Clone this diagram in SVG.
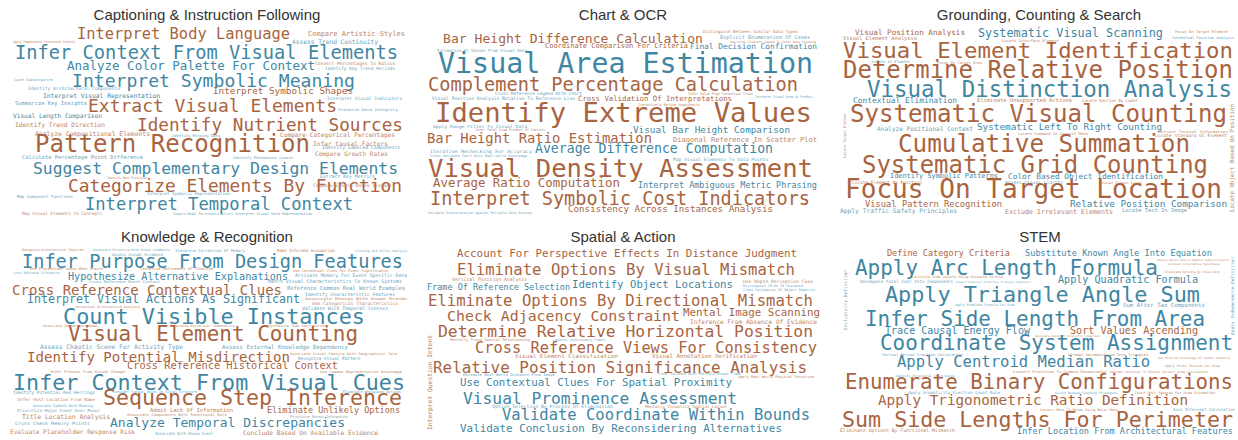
<svg xmlns="http://www.w3.org/2000/svg" width="1238" height="440" viewBox="0 0 1238 440">
<style>
.ttl{font-family:"Liberation Sans",Arial,sans-serif;font-size:15px;fill:#333;text-anchor:middle}
.t{fill:#3f86a3}.b{fill:#a9643f}.tl{fill:#6aa3ba}.bl{fill:#bd8565}
</style>
<rect width="1238" height="440" fill="#fff"/>
<g id="titles">
<text class="ttl" x="207" y="19.5">Captioning &amp; Instruction Following</text>
<text class="ttl" x="623" y="19.5">Chart &amp; OCR</text>
<text class="ttl" x="1039" y="19.5">Grounding, Counting &amp; Search</text>
<text class="ttl" x="207" y="241.5">Knowledge &amp; Recognition</text>
<text class="ttl" x="623" y="241.5">Spatial &amp; Action</text>
<text class="ttl" x="1040" y="241.5">STEM</text>
</g>
<g id="captioning" font-family="DejaVu Sans Mono, monospace">
<text class="b" x="77" y="39" font-size="15.4" textLength="213" lengthAdjust="spacingAndGlyphs">Interpret Body Language</text>
<text class="bl" x="308" y="36" font-size="7" textLength="97" lengthAdjust="spacingAndGlyphs">Compare Artistic Styles</text>
<text class="tl" x="292" y="44" font-size="6.2" textLength="86" lengthAdjust="spacingAndGlyphs">Assess Trend Continuity</text>
<text class="bl" x="13" y="43" font-size="3.6" textLength="62" lengthAdjust="spacingAndGlyphs">Apply Temperature Conversion Formula</text>
<text class="t" x="15" y="59" font-size="18.7" textLength="383" lengthAdjust="spacingAndGlyphs">Infer Context From Visual Elements</text>
<text class="t" x="67" y="70" font-size="12.5" textLength="248" lengthAdjust="spacingAndGlyphs">Analyze Color Palette For Context</text>
<text class="bl" x="315" y="65" font-size="4.6" textLength="80" lengthAdjust="spacingAndGlyphs">Convert Percentages To Ratios</text>
<text class="tl" x="325" y="70" font-size="4.5" textLength="70" lengthAdjust="spacingAndGlyphs">Identify Key Trend Periods</text>
<text class="t" x="72" y="87" font-size="18.1" textLength="283" lengthAdjust="spacingAndGlyphs">Interpret Symbolic Meaning</text>
<text class="tl" x="14" y="81" font-size="3.8" textLength="39" lengthAdjust="spacingAndGlyphs">Count Subcategories</text>
<text class="tl" x="28" y="90" font-size="4.6" textLength="92" lengthAdjust="spacingAndGlyphs">Identify Architectural Components</text>
<text class="b" x="213" y="94" font-size="9.3" textLength="140" lengthAdjust="spacingAndGlyphs">Interpret Symbolic Shapes</text>
<text class="t" x="43" y="98" font-size="6.3" textLength="117" lengthAdjust="spacingAndGlyphs">Interpret Visual Representation</text>
<text class="tl" x="15" y="105" font-size="5.4" textLength="72" lengthAdjust="spacingAndGlyphs">Summarize Key Insights</text>
<text class="tl" x="327" y="100" font-size="4.6" textLength="75" lengthAdjust="spacingAndGlyphs">Interpret Visual Indicators</text>
<text class="b" x="88" y="112" font-size="18" textLength="249" lengthAdjust="spacingAndGlyphs">Extract Visual Elements</text>
<text class="tl" x="338" y="111" font-size="3.6" textLength="60" lengthAdjust="spacingAndGlyphs">Preserve Data Integrity</text>
<text class="t" x="13" y="118" font-size="6.2" textLength="89" lengthAdjust="spacingAndGlyphs">Visual Length Comparison</text>
<text class="b" x="137" y="131" font-size="17.7" textLength="266" lengthAdjust="spacingAndGlyphs">Identify Nutrient Sources</text>
<text class="bl" x="15" y="127" font-size="6.2" textLength="90" lengthAdjust="spacingAndGlyphs">Identify Trend Direction</text>
<text class="bl" x="35" y="136" font-size="6.4" textLength="115" lengthAdjust="spacingAndGlyphs">Analyze Compositional Elements</text>
<text class="tl" x="172" y="137" font-size="3.8" textLength="48" lengthAdjust="spacingAndGlyphs">Identify Missing Data</text>
<text class="bl" x="280" y="137" font-size="6.2" textLength="115" lengthAdjust="spacingAndGlyphs">Compare Categorical Percentages</text>
<text class="b" x="35" y="152" font-size="24" textLength="275" lengthAdjust="spacingAndGlyphs">Pattern Recognition</text>
<text class="bl" x="313" y="146" font-size="6.2" textLength="75" lengthAdjust="spacingAndGlyphs">Infer Causal Factors</text>
<text class="tl" x="322" y="149" font-size="4.8" textLength="78" lengthAdjust="spacingAndGlyphs">Identify Labeled Components</text>
<text class="bl" x="315" y="156" font-size="6.1" textLength="73" lengthAdjust="spacingAndGlyphs">Compare Growth Rates</text>
<text class="tl" x="22" y="159" font-size="5.4" textLength="121" lengthAdjust="spacingAndGlyphs">Calculate Percentage Point Difference</text>
<text class="tl" x="233" y="159" font-size="3.8" textLength="60" lengthAdjust="spacingAndGlyphs">Identify Phenomenon Causes</text>
<text class="t" x="33" y="174" font-size="16.4" textLength="365" lengthAdjust="spacingAndGlyphs">Suggest Complementary Design Elements</text>
<text class="tl" x="320" y="178" font-size="4.8" textLength="55" lengthAdjust="spacingAndGlyphs">Extract Key Metrics</text>
<text class="bl" x="107" y="179" font-size="3.4" textLength="40" lengthAdjust="spacingAndGlyphs">Identify Best Practices</text>
<text class="b" x="68" y="192" font-size="17.9" textLength="334" lengthAdjust="spacingAndGlyphs">Categorize Elements By Function</text>
<text class="bl" x="313" y="187" font-size="4.7" textLength="82" lengthAdjust="spacingAndGlyphs">Compare Growth Rates Visually</text>
<text class="tl" x="147" y="195" font-size="4.2" textLength="83" lengthAdjust="spacingAndGlyphs">Interpret Symbolic Representation</text>
<text class="tl" x="17" y="198" font-size="4" textLength="56" lengthAdjust="spacingAndGlyphs">Map Component Functions</text>
<text class="t" x="85" y="210" font-size="17.1" textLength="268" lengthAdjust="spacingAndGlyphs">Interpret Temporal Context</text>
<text class="bl" x="22" y="215" font-size="4.3" textLength="80" lengthAdjust="spacingAndGlyphs">Map Visual Elements To Concepts</text>
<text class="tl" x="173" y="215" font-size="3.4" textLength="60" lengthAdjust="spacingAndGlyphs">Compare Model Performance Metrics</text>
<text class="tl" x="235" y="215" font-size="3.6" textLength="77" lengthAdjust="spacingAndGlyphs">Interpret Visual Data Representation</text>
</g>
<g id="chart-ocr" font-family="DejaVu Sans Mono, monospace">
<text class="b" x="443" y="43" font-size="13.1" textLength="260" lengthAdjust="spacingAndGlyphs">Bar Height Difference Calculation</text>
<text class="bl" x="703" y="33" font-size="4.2" textLength="95" lengthAdjust="spacingAndGlyphs">Distinguish Between Similar Data Types</text>
<text class="tl" x="720" y="39" font-size="5.2" textLength="90" lengthAdjust="spacingAndGlyphs">Explicit Enumeration Of Cases</text>
<text class="bl" x="730" y="43" font-size="3.1" textLength="86" lengthAdjust="spacingAndGlyphs">Use Color Gradient Legend To Infer Data Encoding</text>
<text class="b" x="545" y="48" font-size="7" textLength="143" lengthAdjust="spacingAndGlyphs">Coordinate Comparison For Criteria</text>
<text class="t" x="690" y="49" font-size="7.8" textLength="127" lengthAdjust="spacingAndGlyphs">Final Decision Confirmation</text>
<text class="tl" x="437" y="52" font-size="4" textLength="90" lengthAdjust="spacingAndGlyphs">Estimation Of Values From Visual Data</text>
<text class="t" x="438" y="73" font-size="28.3" textLength="375" lengthAdjust="spacingAndGlyphs">Visual Area Estimation</text>
<text class="b" x="428" y="91" font-size="18.6" textLength="370" lengthAdjust="spacingAndGlyphs">Complement Percentage Calculation</text>
<text class="tl" x="495" y="95" font-size="4.4" textLength="87" lengthAdjust="spacingAndGlyphs">Cross Reference Legend With Chart</text>
<text class="bl" x="688" y="95" font-size="3.8" textLength="65" lengthAdjust="spacingAndGlyphs">Infer Value From Contextual Clues</text>
<text class="tl" x="755" y="98" font-size="3.6" textLength="58" lengthAdjust="spacingAndGlyphs">Interpret Visual Area As Product</text>
<text class="tl" x="432" y="100" font-size="4.7" textLength="143" lengthAdjust="spacingAndGlyphs">Visual Position Analysis Relative To Reference Line</text>
<text class="b" x="578" y="101" font-size="7.3" textLength="154" lengthAdjust="spacingAndGlyphs">Cross Validation Of Interpretations</text>
<text class="bl" x="638" y="106" font-size="3.6" textLength="62" lengthAdjust="spacingAndGlyphs">Iteratively Refine Hypothesis</text>
<text class="b" x="435" y="122" font-size="27.2" textLength="377" lengthAdjust="spacingAndGlyphs">Identify Extreme Values</text>
<text class="tl" x="433" y="128" font-size="4.2" textLength="94" lengthAdjust="spacingAndGlyphs">Apply Range Filter To Visual Data</text>
<text class="bl" x="475" y="131" font-size="3.6" textLength="70" lengthAdjust="spacingAndGlyphs">Infer Total From Product Of Factors</text>
<text class="t" x="633" y="133" font-size="9.3" textLength="157" lengthAdjust="spacingAndGlyphs">Visual Bar Height Comparison</text>
<text class="b" x="427" y="143" font-size="13.8" textLength="225" lengthAdjust="spacingAndGlyphs">Bar Height Ratio Estimation</text>
<text class="bl" x="673" y="142" font-size="7" textLength="144" lengthAdjust="spacingAndGlyphs">Diagonal Reference In Scatter Plot</text>
<text class="tl" x="430" y="153" font-size="4.6" textLength="102" lengthAdjust="spacingAndGlyphs">Iterative Rechecking For Accuracy</text>
<text class="tl" x="430" y="157" font-size="3.4" textLength="97" lengthAdjust="spacingAndGlyphs">Cross Validate Chart With Real-world Knowledge</text>
<text class="t" x="535" y="153" font-size="13.2" textLength="238" lengthAdjust="spacingAndGlyphs">Average Difference Computation</text>
<text class="tl" x="673" y="161" font-size="4.6" textLength="95" lengthAdjust="spacingAndGlyphs">Map Visual Elements To Data Points</text>
<text class="b" x="428" y="177" font-size="25.6" textLength="385" lengthAdjust="spacingAndGlyphs">Visual Density Assessment</text>
<text class="b" x="433" y="187" font-size="12.4" textLength="187" lengthAdjust="spacingAndGlyphs">Average Ratio Computation</text>
<text class="t" x="638" y="188" font-size="8.5" textLength="179" lengthAdjust="spacingAndGlyphs">Interpret Ambiguous Metric Phrasing</text>
<text class="b" x="430" y="205" font-size="18.6" textLength="380" lengthAdjust="spacingAndGlyphs">Interpret Symbolic Cost Indicators</text>
<text class="b" x="568" y="212" font-size="9.2" textLength="205" lengthAdjust="spacingAndGlyphs">Consistency Across Instances Analysis</text>
<text class="tl" x="428" y="214" font-size="3.4" textLength="104" lengthAdjust="spacingAndGlyphs">Validate Interpretation Against Multiple Data Sources</text>
</g>
<g id="grounding" font-family="DejaVu Sans Mono, monospace">
<text class="b" x="855" y="35" font-size="7.6" textLength="110" lengthAdjust="spacingAndGlyphs">Visual Position Analysis</text>
<text class="bl" x="843" y="40" font-size="5.3" textLength="74" lengthAdjust="spacingAndGlyphs">Visual Element Analysis</text>
<text class="t" x="978" y="37" font-size="11.8" textLength="185" lengthAdjust="spacingAndGlyphs">Systematic Visual Scanning</text>
<text class="bl" x="1175" y="33" font-size="3.8" textLength="53" lengthAdjust="spacingAndGlyphs">Focus On Target Element</text>
<text class="tl" x="1172" y="39" font-size="3.6" textLength="62" lengthAdjust="spacingAndGlyphs">Contextual Position Analysis</text>
<text class="bl" x="1002" y="42" font-size="3.8" textLength="57" lengthAdjust="spacingAndGlyphs">Locate Interface Element</text>
<text class="b" x="843" y="58" font-size="21.6" textLength="390" lengthAdjust="spacingAndGlyphs">Visual Element Identification</text>
<text class="tl" x="872" y="63" font-size="3.8" textLength="38" lengthAdjust="spacingAndGlyphs">Locate Ui Element</text>
<text class="bl" x="937" y="64" font-size="3.8" textLength="45" lengthAdjust="spacingAndGlyphs">Focus On Target Area</text>
<text class="b" x="843" y="78" font-size="24" textLength="390" lengthAdjust="spacingAndGlyphs">Determine Relative Position</text>
<text class="t" x="867" y="97" font-size="22.5" textLength="365" lengthAdjust="spacingAndGlyphs">Visual Distinction Analysis</text>
<text class="t" x="853" y="103" font-size="7.8" textLength="104" lengthAdjust="spacingAndGlyphs">Contextual Elimination</text>
<text class="bl" x="977" y="102" font-size="5.4" textLength="95" lengthAdjust="spacingAndGlyphs">Eliminate Unsupported Actions</text>
<text class="bl" x="1082" y="102" font-size="4" textLength="56" lengthAdjust="spacingAndGlyphs">Locate Section By Label</text>
<text class="b" x="850" y="122" font-size="24" textLength="377" lengthAdjust="spacingAndGlyphs">Systematic Visual Counting</text>
<text class="tl" x="877" y="131" font-size="6.2" textLength="96" lengthAdjust="spacingAndGlyphs">Analyze Positional Context</text>
<text class="t" x="977" y="130" font-size="9.3" textLength="185" lengthAdjust="spacingAndGlyphs">Systematic Left To Right Counting</text>
<text class="bl" x="1018" y="135" font-size="3.8" textLength="70" lengthAdjust="spacingAndGlyphs">Locate Command In Context Menu</text>
<text class="bl" x="1158" y="133" font-size="3.8" textLength="70" lengthAdjust="spacingAndGlyphs">Extract Textual Information</text>
<text class="bl" x="1155" y="137" font-size="4.4" textLength="72" lengthAdjust="spacingAndGlyphs">Locate Standard Ui Element</text>
<text class="b" x="898" y="152" font-size="24.2" textLength="292" lengthAdjust="spacingAndGlyphs">Cumulative Summation</text>
<text class="b" x="862" y="173" font-size="24" textLength="346" lengthAdjust="spacingAndGlyphs">Systematic Grid Counting</text>
<text class="t" x="890" y="178" font-size="6.9" textLength="108" lengthAdjust="spacingAndGlyphs">Identify Symbolic Patterns</text>
<text class="t" x="1008" y="179" font-size="7.8" textLength="155" lengthAdjust="spacingAndGlyphs">Color Based Object Identification</text>
<text class="bl" x="852" y="184" font-size="4.4" textLength="70" lengthAdjust="spacingAndGlyphs">Locate Element By Position</text>
<text class="tl" x="1005" y="184" font-size="4.4" textLength="58" lengthAdjust="spacingAndGlyphs">Assess Visual Clarity</text>
<text class="bl" x="1102" y="184" font-size="3.2" textLength="40" lengthAdjust="spacingAndGlyphs">Visual Element Search</text>
<text class="b" x="845" y="198" font-size="26.1" textLength="377" lengthAdjust="spacingAndGlyphs">Focus On Target Location</text>
<text class="b" x="865" y="207" font-size="8.7" textLength="137" lengthAdjust="spacingAndGlyphs">Visual Pattern Recognition</text>
<text class="t" x="1070" y="207" font-size="9.3" textLength="157" lengthAdjust="spacingAndGlyphs">Relative Position Comparison</text>
<text class="tl" x="840" y="213" font-size="6.3" textLength="117" lengthAdjust="spacingAndGlyphs">Apply Traffic Safety Principles</text>
<text class="bl" x="1005" y="214" font-size="6.7" textLength="108" lengthAdjust="spacingAndGlyphs">Exclude Irrelevant Elements</text>
<text class="tl" x="1122" y="212" font-size="5.4" textLength="65" lengthAdjust="spacingAndGlyphs">Locate Text In Image</text>
<text class="bl" transform="translate(846 158) rotate(-90)" font-size="3.6" textLength="45" lengthAdjust="spacingAndGlyphs">Locate Target Element</text>
<text class="bl" transform="translate(1234 212) rotate(-90)" font-size="5.8" textLength="108" lengthAdjust="spacingAndGlyphs">Locate Object Based On Position</text>
</g>
<g id="knowledge" font-family="DejaVu Sans Mono, monospace">
<text class="bl" x="22" y="251" font-size="3.4" textLength="62" lengthAdjust="spacingAndGlyphs">Recognize Architectural Features</text>
<text class="tl" x="93" y="251" font-size="3.4" textLength="77" lengthAdjust="spacingAndGlyphs">Associate Structure With Known Landmarks</text>
<text class="tl" x="175" y="252" font-size="3.9" textLength="70" lengthAdjust="spacingAndGlyphs">Iterative Correction Of Memory</text>
<text class="bl" x="277" y="252" font-size="4" textLength="58" lengthAdjust="spacingAndGlyphs">Make Informed Assumption</text>
<text class="tl" x="355" y="252" font-size="3.2" textLength="52" lengthAdjust="spacingAndGlyphs">Clothing And Attire Analysis</text>
<text class="tl" x="112" y="256" font-size="3.9" textLength="51" lengthAdjust="spacingAndGlyphs">Assess Visual Evidence</text>
<text class="t" x="22" y="268" font-size="18.6" textLength="381" lengthAdjust="spacingAndGlyphs">Infer Purpose From Design Features</text>
<text class="bl" x="30" y="270" font-size="3.7" textLength="73" lengthAdjust="spacingAndGlyphs">Use Placeholder Guess When Unsure</text>
<text class="bl" x="140" y="270" font-size="3.7" textLength="73" lengthAdjust="spacingAndGlyphs">Iterative Refinement Of Timeline</text>
<text class="bl" x="293" y="272" font-size="3.7" textLength="95" lengthAdjust="spacingAndGlyphs">Use Contextual Clues For Event Significance</text>
<text class="tl" x="13" y="274" font-size="3.4" textLength="47" lengthAdjust="spacingAndGlyphs">Cross Reference Information</text>
<text class="tl" x="295" y="277" font-size="4.8" textLength="112" lengthAdjust="spacingAndGlyphs">Activate Memory For Event Specific Data</text>
<text class="t" x="68" y="280" font-size="10.2" textLength="220" lengthAdjust="spacingAndGlyphs">Hypothesize Alternative Explanations</text>
<text class="tl" x="89" y="283" font-size="3.8" textLength="71" lengthAdjust="spacingAndGlyphs">Cross Reference Event Context</text>
<text class="tl" x="268" y="283" font-size="4.9" textLength="134" lengthAdjust="spacingAndGlyphs">Match Visual Characteristics To Known Systems</text>
<text class="tl" x="287" y="290" font-size="5.6" textLength="118" lengthAdjust="spacingAndGlyphs">Reference Common Real World Examples</text>
<text class="b" x="12" y="295" font-size="14" textLength="270" lengthAdjust="spacingAndGlyphs">Cross Reference Contextual Clues</text>
<text class="tl" x="305" y="296" font-size="4.4" textLength="90" lengthAdjust="spacingAndGlyphs">Identify Characteristic Features</text>
<text class="bl" x="305" y="300" font-size="3.8" textLength="102" lengthAdjust="spacingAndGlyphs">Associate Design With Known Brands</text>
<text class="t" x="27" y="303" font-size="11.6" textLength="273" lengthAdjust="spacingAndGlyphs">Interpret Visual Actions As Significant</text>
<text class="bl" x="312" y="305" font-size="4.6" textLength="86" lengthAdjust="spacingAndGlyphs">Use Categorical Characteristics</text>
<text class="bl" x="75" y="308" font-size="3.4" textLength="65" lengthAdjust="spacingAndGlyphs">Contextual Architecture Analysis</text>
<text class="tl" x="302" y="310" font-size="4.8" textLength="86" lengthAdjust="spacingAndGlyphs">Validate With Temporal Context</text>
<text class="t" x="63" y="324" font-size="21.8" textLength="302" lengthAdjust="spacingAndGlyphs">Count Visible Instances</text>
<text class="bl" x="43" y="327" font-size="3.4" textLength="55" lengthAdjust="spacingAndGlyphs">Associate Contextual Names</text>
<text class="bl" x="170" y="327" font-size="3.4" textLength="65" lengthAdjust="spacingAndGlyphs">Reference Historical Commonality</text>
<text class="bl" x="268" y="327" font-size="3.4" textLength="58" lengthAdjust="spacingAndGlyphs">Synthesize Team Contribution</text>
<text class="b" x="68" y="341" font-size="21" textLength="290" lengthAdjust="spacingAndGlyphs">Visual Element Counting</text>
<text class="tl" x="40" y="349" font-size="6.3" textLength="143" lengthAdjust="spacingAndGlyphs">Assess Chaotic Scene For Activity Type</text>
<text class="tl" x="222" y="349" font-size="5.8" textLength="126" lengthAdjust="spacingAndGlyphs">Assess External Knowledge Dependency</text>
<text class="bl" x="290" y="355" font-size="3.4" textLength="107" lengthAdjust="spacingAndGlyphs">Associate Visual Feature With Geographical Term</text>
<text class="tl" x="298" y="360" font-size="4.4" textLength="62" lengthAdjust="spacingAndGlyphs">Recognize Visual Pattern</text>
<text class="b" x="27" y="362" font-size="14.1" textLength="263" lengthAdjust="spacingAndGlyphs">Identify Potential Misdirection</text>
<text class="b" x="127" y="369" font-size="10.3" textLength="211" lengthAdjust="spacingAndGlyphs">Cross Reference Historical Context</text>
<text class="bl" x="50" y="373" font-size="3.6" textLength="75" lengthAdjust="spacingAndGlyphs">Infer Process From Visual Change</text>
<text class="bl" x="320" y="373" font-size="3.4" textLength="82" lengthAdjust="spacingAndGlyphs">Use Common Representation Knowledge</text>
<text class="t" x="13" y="390" font-size="21.7" textLength="392" lengthAdjust="spacingAndGlyphs">Infer Context From Visual Cues</text>
<text class="tl" x="13" y="394" font-size="4.4" textLength="82" lengthAdjust="spacingAndGlyphs">Identify Potential Red Herrings</text>
<text class="tl" x="113" y="393" font-size="3.6" textLength="84" lengthAdjust="spacingAndGlyphs">Consider Typical Roles In Social Structure</text>
<text class="tl" x="343" y="393" font-size="3.8" textLength="58" lengthAdjust="spacingAndGlyphs">Eliminate Ambiguous Options</text>
<text class="bl" x="17" y="401" font-size="4.2" textLength="78" lengthAdjust="spacingAndGlyphs">Infer Host Location From Name</text>
<text class="b" x="103" y="405" font-size="21.6" textLength="299" lengthAdjust="spacingAndGlyphs">Sequence Step Inference</text>
<text class="tl" x="33" y="407" font-size="3.8" textLength="60" lengthAdjust="spacingAndGlyphs">Associate Symbols With Meaning</text>
<text class="tl" x="17" y="412" font-size="4.2" textLength="83" lengthAdjust="spacingAndGlyphs">Prioritize Major Event Over Minor</text>
<text class="bl" x="150" y="412" font-size="5.5" textLength="83" lengthAdjust="spacingAndGlyphs">Admit Lack Of Information</text>
<text class="b" x="267" y="413" font-size="8.5" textLength="133" lengthAdjust="spacingAndGlyphs">Eliminate Unlikely Options</text>
<text class="bl" x="127" y="416" font-size="3.8" textLength="100" lengthAdjust="spacingAndGlyphs">Associate Components With Functional Role</text>
<text class="tl" x="290" y="418" font-size="3.8" textLength="58" lengthAdjust="spacingAndGlyphs">Prioritize Recent Information</text>
<text class="bl" x="22" y="419" font-size="6.4" textLength="88" lengthAdjust="spacingAndGlyphs">Title Location Analysis</text>
<text class="tl" x="15" y="425" font-size="4.4" textLength="75" lengthAdjust="spacingAndGlyphs">Cross Check Memory Points</text>
<text class="t" x="110" y="427" font-size="13" textLength="235" lengthAdjust="spacingAndGlyphs">Analyze Temporal Discrepancies</text>
<text class="bl" x="10" y="434" font-size="6.1" textLength="125" lengthAdjust="spacingAndGlyphs">Evaluate Placeholder Response Risk</text>
<text class="tl" x="155" y="435" font-size="4.2" textLength="58" lengthAdjust="spacingAndGlyphs">Associate With Known Event</text>
<text class="bl" x="243" y="435" font-size="6.2" textLength="135" lengthAdjust="spacingAndGlyphs">Conclude Based On Available Evidence</text>
</g>
<g id="spatial" font-family="DejaVu Sans Mono, monospace">
<text class="b" x="457" y="257" font-size="10.9" textLength="340" lengthAdjust="spacingAndGlyphs">Account For Perspective Effects In Distance Judgment</text>
<text class="b" x="457" y="275" font-size="15.6" textLength="338" lengthAdjust="spacingAndGlyphs">Eliminate Options By Visual Mismatch</text>
<text class="bl" x="452" y="281" font-size="4.8" textLength="75" lengthAdjust="spacingAndGlyphs">Vertical Position Analysis</text>
<text class="bl" x="743" y="283" font-size="4.6" textLength="70" lengthAdjust="spacingAndGlyphs">Use Depth Perception Cues</text>
<text class="tl" x="743" y="287" font-size="3.4" textLength="60" lengthAdjust="spacingAndGlyphs">Distinguish 2D Vs 3D Distance</text>
<text class="t" x="572" y="288" font-size="10.7" textLength="161" lengthAdjust="spacingAndGlyphs">Identify Object Locations</text>
<text class="t" x="427" y="290" font-size="8.5" textLength="143" lengthAdjust="spacingAndGlyphs">Frame Of Reference Selection</text>
<text class="tl" x="743" y="291" font-size="3.4" textLength="72" lengthAdjust="spacingAndGlyphs">Cross Validation Of Object Identity</text>
<text class="b" x="428" y="306" font-size="15.6" textLength="385" lengthAdjust="spacingAndGlyphs">Eliminate Options By Directional Mismatch</text>
<text class="b" x="683" y="316" font-size="10.8" textLength="137" lengthAdjust="spacingAndGlyphs">Mental Image Scanning</text>
<text class="b" x="447" y="321" font-size="14.9" textLength="233" lengthAdjust="spacingAndGlyphs">Check Adjacency Constraint</text>
<text class="bl" x="690" y="324" font-size="6.2" textLength="127" lengthAdjust="spacingAndGlyphs">Inference From Absence Of Evidence</text>
<text class="b" x="438" y="337" font-size="16.4" textLength="375" lengthAdjust="spacingAndGlyphs">Determine Relative Horizontal Position</text>
<text class="bl" x="450" y="341" font-size="3.8" textLength="80" lengthAdjust="spacingAndGlyphs">Mentally Trace Spatial Relationship</text>
<text class="tl" x="553" y="341" font-size="3.4" textLength="52" lengthAdjust="spacingAndGlyphs">Logical Consistency Check</text>
<text class="b" x="475" y="353" font-size="15.4" textLength="342" lengthAdjust="spacingAndGlyphs">Cross Reference Views For Consistency</text>
<text class="bl" x="515" y="358" font-size="5.7" textLength="103" lengthAdjust="spacingAndGlyphs">Visual Element Classification</text>
<text class="bl" x="652" y="358" font-size="5.8" textLength="105" lengthAdjust="spacingAndGlyphs">Visual Annotation Verification</text>
<text class="b" x="433" y="373" font-size="15.9" textLength="374" lengthAdjust="spacingAndGlyphs">Relative Position Significance Analysis</text>
<text class="tl" x="463" y="376" font-size="3.8" textLength="92" lengthAdjust="spacingAndGlyphs">Estimate Real World Distance From Image</text>
<text class="tl" x="658" y="375" font-size="3.8" textLength="83" lengthAdjust="spacingAndGlyphs">Cross Validate With Multiple Visual Clues</text>
<text class="bl" x="738" y="378" font-size="3.6" textLength="76" lengthAdjust="spacingAndGlyphs">Apply Real World Physical Intuition</text>
<text class="t" x="460" y="386" font-size="10.8" textLength="272" lengthAdjust="spacingAndGlyphs">Use Contextual Clues For Spatial Proximity</text>
<text class="t" x="463" y="404" font-size="16.2" textLength="274" lengthAdjust="spacingAndGlyphs">Visual Prominence Assessment</text>
<text class="tl" x="492" y="408" font-size="4.6" textLength="121" lengthAdjust="spacingAndGlyphs">Option Selection By Process Of Elimination</text>
<text class="bl" x="645" y="408" font-size="4.2" textLength="82" lengthAdjust="spacingAndGlyphs">Mentally Visualize Spatial Layout</text>
<text class="t" x="502" y="420" font-size="15.5" textLength="308" lengthAdjust="spacingAndGlyphs">Validate Coordinate Within Bounds</text>
<text class="t" x="460" y="432" font-size="10.9" textLength="322" lengthAdjust="spacingAndGlyphs">Validate Conclusion By Reconsidering Alternatives</text>
<text class="bl" transform="translate(432 430) rotate(-90)" font-size="6.2" textLength="95" lengthAdjust="spacingAndGlyphs">Interpret Question Intent</text>
</g>
<g id="stem" font-family="DejaVu Sans Mono, monospace">
<text class="b" x="887" y="256" font-size="8.5" textLength="123" lengthAdjust="spacingAndGlyphs">Define Category Criteria</text>
<text class="t" x="1025" y="256" font-size="8.6" textLength="187" lengthAdjust="spacingAndGlyphs">Substitute Known Angle Into Equation</text>
<text class="bl" x="1157" y="261" font-size="2.6" textLength="72" lengthAdjust="spacingAndGlyphs">Analyze Answer Choices Against Computed Results</text>
<text class="bl" x="1168" y="265" font-size="2.8" textLength="52" lengthAdjust="spacingAndGlyphs">Consider Alternative Hypotheses</text>
<text class="t" x="855" y="275" font-size="21" textLength="303" lengthAdjust="spacingAndGlyphs">Apply Arc Length Formula</text>
<text class="bl" x="1165" y="273" font-size="3" textLength="55" lengthAdjust="spacingAndGlyphs">Eliminate Options By Invalidity</text>
<text class="bl" x="912" y="278" font-size="3.4" textLength="91" lengthAdjust="spacingAndGlyphs">Calculate Side Lengths Using Distance Formula</text>
<text class="tl" x="860" y="283" font-size="4.3" textLength="93" lengthAdjust="spacingAndGlyphs">Decompose Total Cost Into Components</text>
<text class="tl" x="956" y="283" font-size="2.6" textLength="75" lengthAdjust="spacingAndGlyphs">Compare Geometric Properties To Assess Congruence</text>
<text class="t" x="1058" y="283" font-size="10.1" textLength="140" lengthAdjust="spacingAndGlyphs">Apply Quadratic Formula</text>
<text class="t" x="885" y="302" font-size="21.8" textLength="315" lengthAdjust="spacingAndGlyphs">Apply Triangle Angle Sum</text>
<text class="tl" x="955" y="306" font-size="3.4" textLength="60" lengthAdjust="spacingAndGlyphs">Apply Shoelace Formula For Area</text>
<text class="tl" x="1123" y="307" font-size="5.7" textLength="82" lengthAdjust="spacingAndGlyphs">Sum After Tax Components</text>
<text class="t" x="865" y="326" font-size="20.9" textLength="340" lengthAdjust="spacingAndGlyphs">Infer Side Length From Area</text>
<text class="t" x="885" y="334" font-size="10" textLength="145" lengthAdjust="spacingAndGlyphs">Trace Causal Energy Flow</text>
<text class="b" x="1070" y="334" font-size="10.1" textLength="128" lengthAdjust="spacingAndGlyphs">Sort Values Ascending</text>
<text class="bl" x="1035" y="337" font-size="2.8" textLength="65" lengthAdjust="spacingAndGlyphs">Aggregate Component Totals For Comparison</text>
<text class="t" x="880" y="350" font-size="20.9" textLength="353" lengthAdjust="spacingAndGlyphs">Coordinate System Assignment</text>
<text class="tl" x="882" y="356" font-size="3.6" textLength="81" lengthAdjust="spacingAndGlyphs">Partial Period Fraction Calculation</text>
<text class="bl" x="1068" y="356" font-size="3.6" textLength="80" lengthAdjust="spacingAndGlyphs">Attempt Decomposition Into Triangles</text>
<text class="bl" x="1158" y="359" font-size="2.9" textLength="72" lengthAdjust="spacingAndGlyphs">Use External Knowledge Of Common Patterns</text>
<text class="bl" x="1165" y="367" font-size="3.2" textLength="55" lengthAdjust="spacingAndGlyphs">Apply Picks Theorem For Area</text>
<text class="t" x="897" y="367" font-size="15.6" textLength="253" lengthAdjust="spacingAndGlyphs">Apply Centroid Median Ratio</text>
<text class="bl" x="1013" y="373" font-size="3.8" textLength="94" lengthAdjust="spacingAndGlyphs">Convert Fractions To Common Denominator</text>
<text class="bl" x="1110" y="373" font-size="3.1" textLength="98" lengthAdjust="spacingAndGlyphs">Reorder Vertices To Ensure Correct Area Calculation</text>
<text class="tl" x="895" y="377" font-size="3.2" textLength="60" lengthAdjust="spacingAndGlyphs">Identify Structural Constraints</text>
<text class="b" x="845" y="389" font-size="20.8" textLength="388" lengthAdjust="spacingAndGlyphs">Enumerate Binary Configurations</text>
<text class="tl" x="908" y="394" font-size="4.2" textLength="92" lengthAdjust="spacingAndGlyphs">Apply Aromaticity Electron Count Rule</text>
<text class="tl" x="1055" y="394" font-size="3" textLength="62" lengthAdjust="spacingAndGlyphs">Switch Between Counting Strategies</text>
<text class="bl" x="1135" y="394" font-size="3.5" textLength="80" lengthAdjust="spacingAndGlyphs">Count Unit Squares For Area Estimation</text>
<text class="b" x="878" y="405" font-size="14.3" textLength="310" lengthAdjust="spacingAndGlyphs">Apply Trigonometric Ratio Definition</text>
<text class="bl" x="1040" y="411" font-size="3.4" textLength="78" lengthAdjust="spacingAndGlyphs">Convert Mass To Moles Using Molar Mass</text>
<text class="tl" x="1173" y="411" font-size="4" textLength="62" lengthAdjust="spacingAndGlyphs">Axis Intercept Calculation</text>
<text class="b" x="842" y="427" font-size="21.6" textLength="391" lengthAdjust="spacingAndGlyphs">Sum Side Lengths For Perimeter</text>
<text class="bl" x="840" y="432" font-size="4.8" textLength="115" lengthAdjust="spacingAndGlyphs">Eliminate Options By Functional Mismatch</text>
<text class="t" x="1017" y="434" font-size="8.5" textLength="216" lengthAdjust="spacingAndGlyphs">Infer Location From Architectural Features</text>
<text class="tl" transform="translate(1234 335) rotate(-90)" font-size="4.3" textLength="78" lengthAdjust="spacingAndGlyphs">Apply Independence Definition</text>
<text class="tl" transform="translate(847 330) rotate(-90)" font-size="4.5" textLength="60" lengthAdjust="spacingAndGlyphs">Exclusivity Definition</text>
</g>
</svg>
